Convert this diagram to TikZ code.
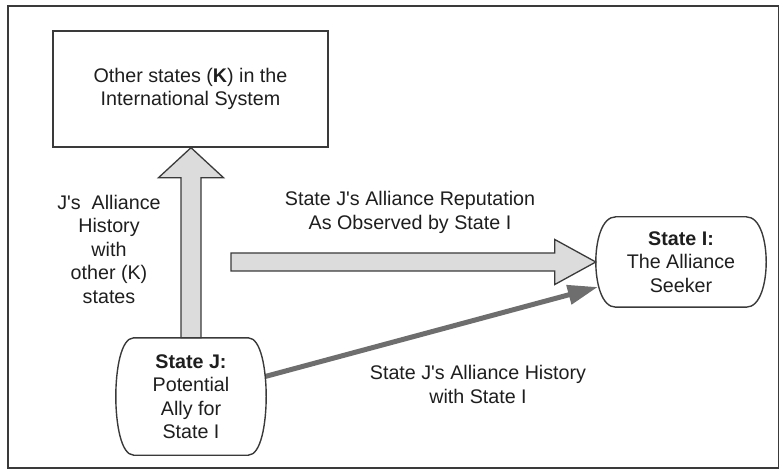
\documentclass[tikz,border=0pt]{standalone}
\usepackage{fontspec}
\setmainfont{Liberation Sans}
\usetikzlibrary{calc,arrows.meta}
\definecolor{ink}{HTML}{1E1E1E}
\definecolor{edge}{HTML}{3A3A3A}
\definecolor{fatfill}{HTML}{DCDCDC}
\definecolor{darkarrow}{HTML}{6E6E6E}
\newcommand{\bulgeoutline}[2]{%
  \draw[boxline] let \p1=(#1.north west), \p2=(#1.south east), \p3=(#1.east) in
    (\x1+#2,\y1) -- (\x2-#2,\y1)
    .. controls (\x2-0.28*#2,\y1) and (\x2,0.45*\y1+0.55*\y3) .. (\x2,\y3)
    .. controls (\x2,0.45*\y2+0.55*\y3) and (\x2-0.28*#2,\y2) .. (\x2-#2,\y2)
    -- (\x1+#2,\y2)
    .. controls (\x1+0.28*#2,\y2) and (\x1,0.45*\y2+0.55*\y3) .. (\x1,\y3)
    .. controls (\x1,0.45*\y1+0.55*\y3) and (\x1+0.28*#2,\y1) .. (\x1+#2,\y1) -- cycle;}
\newcommand{\apos}{\textquotesingle}
\begin{document}
\begin{tikzpicture}[x=1pt,y=-1pt,
  txt/.style={font=\fontsize{19.7}{23.5}\selectfont, text=ink, align=center, inner sep=0pt},
  boxline/.style={draw=edge, line width=1.4pt},
  fat/.style={draw=edge, line width=1.3pt, fill=fatfill, line join=miter},
  stateshape/.style={txt, minimum width=#1},
  darkline/.style={draw=darkarrow, line width=5pt, -{Triangle[length=30pt,width=19pt,fill=darkarrow]}}]

\useasboundingbox (0,0) rectangle (779,470);
\draw[boxline] (8,6) rectangle (778.5,468);

% nodes
\node[txt, boxline, minimum width=275, minimum height=116] (K) at (190.5,89)
  {Other states (\textbf{K}) in the\\International System};
\node[stateshape=150, minimum height=117] (J) at (191,396.5)
  {\textbf{State J:}\\Potential\\Ally for\\State I};
\node[stateshape=170, minimum height=90] (I) at (681,262)
  {\textbf{State I:}\\The Alliance\\Seeker};
\coordinate (T) at (231,262);

% labels
\node[txt] (lblK) at (109,249) {J\apos s\ \ Alliance\\History\\with\\other (K)\\states};
\node[txt] (lblR) at (410,212.5) {State J\apos s Alliance Reputation\\As Observed by State I};
\node[txt] (lblH) at (478,384.5) {State J\apos s Alliance History\\with State I};

% fat vertical arrow J -> K
\draw[fat] let \p1=(J.north), \p2=(K.south) in
  (\x1-10pt,\y1) -- (\x1-10pt,\y2-30pt) -- (\x1-32.5pt,\y2-30pt) -- (\x1,\y2)
  -- (\x1+32.5pt,\y2-30pt) -- (\x1+10pt,\y2-30pt) -- (\x1+10pt,\y1) -- cycle;

% fat horizontal arrow T -> I
\draw[fat] let \p1=(T), \p2=(I.west) in
  (\x1,\y1+9pt) -- (\x2-41pt,\y1+9pt) -- (\x2-41pt,\y1+22.5pt) -- (\x2,\y2)
  -- (\x2-41pt,\y1-22.5pt) -- (\x2-41pt,\y1-9pt) -- (\x1,\y1-9pt) -- cycle;

% dark arrow J -> I
\draw[darkline] ($(J.east)+(-1,-20)$) -- ($(I.west)+(2,25)$);

% rounded-side outlines
\bulgeoutline{J}{18pt}
\bulgeoutline{I}{20pt}
\end{tikzpicture}
\end{document}
